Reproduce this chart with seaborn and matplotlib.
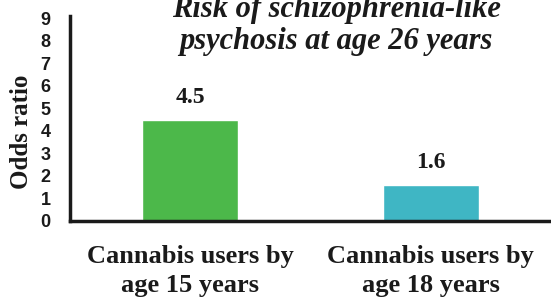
import pandas as pd
import seaborn as sns
import matplotlib.pyplot as plt

# chart values
groups = ["Cannabis users by\nage 15 years", "Cannabis users by\nage 18 years"]
odds = [4.5, 1.6]
bar_colors = ["#4cb84a", "#3fb6c4"]
yticks = list(range(0, 10))

df = pd.DataFrame({"group": groups, "odds": odds})

sns.set_style("white")
plt.rcParams["font.family"] = ["Liberation Serif", "DejaVu Serif"]

fig = plt.figure(figsize=(5.51, 2.99), dpi=100)
ax = fig.add_axes([0.127, 0.261, 0.873, 0.685])

sns.barplot(data=df, x="group", y="odds", hue="group", palette=bar_colors,
            width=0.4, legend=False, ax=ax, saturation=1)

# value labels above the bars
for i, v in enumerate(odds):
    ax.annotate(f"{v}", (i, v), xytext=(0, 16), textcoords="offset points",
                ha="center", va="center", fontsize=17, fontweight="bold",
                color="#1a1a1a")

ax.set_xlim(-0.5, 1.5)
ax.set_ylim(0, 9.1)
ax.set_yticks(yticks)
ax.set_yticklabels([str(t) for t in yticks], fontsize=13, fontweight="bold",
                   family="Liberation Sans", color="#1a1a1a")
ax.set_xticks(range(len(groups)))
ax.set_xticklabels(groups, fontsize=19, fontweight="bold", color="#1a1a1a",
                   linespacing=1.35)
ax.tick_params(axis="x", length=0, pad=17)
ax.tick_params(axis="y", length=3, width=2, direction="out", pad=11, color="#1a1a1a")

ax.set_xlabel("")
ax.set_ylabel("Odds ratio", fontsize=18, fontweight="bold", color="#1a1a1a")
ax.yaxis.label.set_va("center")
ax.yaxis.set_label_coords(-0.1, 0.436)

for side in ["top", "right"]:
    ax.spines[side].set_visible(False)
for side in ["left", "bottom"]:
    ax.spines[side].set_linewidth(2.5)
    ax.spines[side].set_color("#1a1a1a")

fig.text(0.61, 0.915, "Risk of schizophrenia-like\npsychosis at age 26 years",
         ha="center", va="center", fontsize=22, fontweight="bold",
         style="italic", color="#1a1a1a", linespacing=1.1)

fig.savefig("out.png", dpi=100)
